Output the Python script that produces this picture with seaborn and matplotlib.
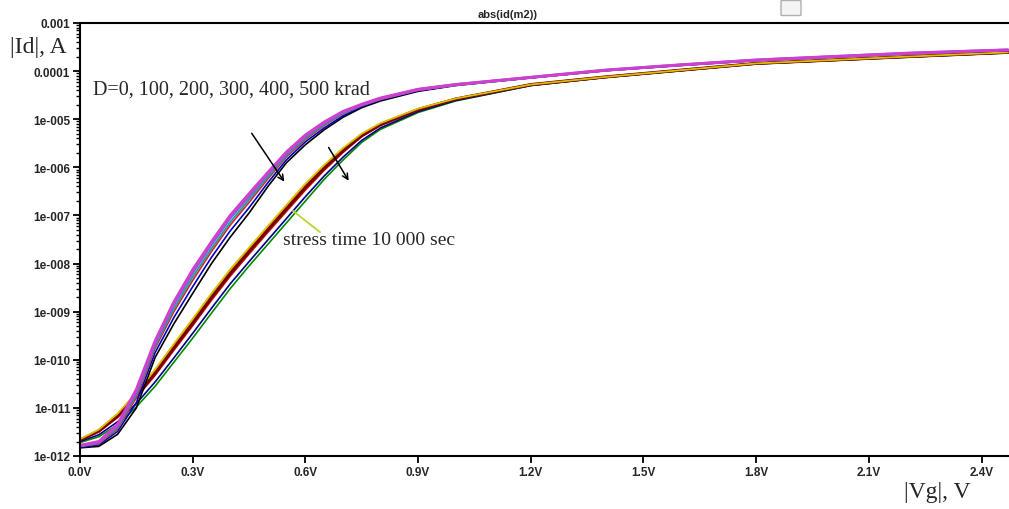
import numpy as np
import pandas as pd
import matplotlib
matplotlib.use("Agg")
import matplotlib.pyplot as plt
import matplotlib.patches as mpatches
import seaborn as sns

# gate voltage grid, V
vg = [0, 0.05, 0.1, 0.15, 0.2, 0.25, 0.3, 0.35, 0.4, 0.45, 0.5, 0.55, 0.6, 0.65,
      0.7, 0.75, 0.8, 0.9, 1.0, 1.2, 1.4, 1.6, 1.8, 2.0, 2.2, 2.47]

# log10(|Id|) - irradiated group (D = 0..500 krad)
rad_magenta = [-11.78, -11.70, -11.35, -10.62, -9.61, -8.80, -8.13, -7.55, -7.00, -6.55, -6.11, -5.68, -5.33,
               -5.06, -4.84, -4.69, -4.56, -4.38, -4.28, -4.13, -3.98, -3.87, -3.77, -3.70, -3.63, -3.56]
rad_violet = [-11.79, -11.71, -11.37, -10.67, -9.65, -8.85, -8.19, -7.60, -7.05, -6.60, -6.14, -5.71, -5.35,
              -5.08, -4.85, -4.70, -4.57, -4.38, -4.28, -4.13, -3.98, -3.87, -3.77, -3.70, -3.63, -3.56]
rad_teal = [-11.80, -11.73, -11.41, -10.73, -9.71, -8.94, -8.28, -7.69, -7.14, -6.67, -6.20, -5.75, -5.39,
            -5.11, -4.88, -4.71, -4.58, -4.39, -4.29, -4.13, -3.98, -3.87, -3.77, -3.70, -3.63, -3.56]
rad_red = [-11.80, -11.75, -11.44, -10.79, -9.76, -9.00, -8.35, -7.75, -7.20, -6.73, -6.24, -5.78, -5.42,
           -5.13, -4.89, -4.72, -4.59, -4.40, -4.29, -4.13, -3.98, -3.87, -3.77, -3.70, -3.63, -3.56]
rad_blue = [-11.82, -11.77, -11.49, -10.89, -9.85, -9.12, -8.48, -7.87, -7.32, -6.84, -6.32, -5.84, -5.47,
            -5.18, -4.93, -4.74, -4.60, -4.41, -4.29, -4.14, -3.99, -3.88, -3.78, -3.71, -3.64, -3.57]
rad_black = [-11.83, -11.80, -11.55, -11.00, -9.95, -9.25, -8.62, -8.00, -7.45, -6.95, -6.40, -5.90, -5.53,
             -5.22, -4.96, -4.76, -4.62, -4.42, -4.30, -4.14, -3.99, -3.88, -3.78, -3.71, -3.64, -3.57]

# stress group (stress time 10 000 sec)
st_yellow = [-11.65, -11.45, -11.12, -10.68, -10.20, -9.67, -9.15, -8.62, -8.12, -7.67, -7.22, -6.78, -6.34,
             -5.95, -5.60, -5.30, -5.08, -4.78, -4.57, -4.28, -4.12, -3.98, -3.84, -3.77, -3.70, -3.61]
st_brown = [-11.66, -11.47, -11.15, -10.72, -10.24, -9.72, -9.20, -8.67, -8.17, -7.72, -7.27, -6.82, -6.38,
            -5.99, -5.63, -5.32, -5.10, -4.79, -4.58, -4.28, -4.12, -3.98, -3.84, -3.77, -3.70, -3.61]
st_maroon = [-11.67, -11.48, -11.17, -10.75, -10.28, -9.75, -9.24, -8.71, -8.21, -7.75, -7.30, -6.86, -6.42,
             -6.02, -5.66, -5.34, -5.11, -4.80, -4.58, -4.28, -4.12, -3.98, -3.84, -3.77, -3.70, -3.61]
st_red = [-11.67, -11.50, -11.20, -10.79, -10.32, -9.80, -9.29, -8.76, -8.26, -7.80, -7.35, -6.91, -6.47,
          -6.06, -5.69, -5.36, -5.13, -4.81, -4.59, -4.29, -4.12, -3.98, -3.84, -3.77, -3.70, -3.61]
st_navy = [-11.70, -11.56, -11.29, -10.91, -10.46, -9.96, -9.45, -8.93, -8.42, -7.96, -7.51, -7.06, -6.61,
           -6.18, -5.79, -5.44, -5.18, -4.84, -4.61, -4.30, -4.13, -3.99, -3.85, -3.78, -3.71, -3.62]
st_green = [-11.72, -11.60, -11.35, -10.98, -10.55, -10.05, -9.55, -9.03, -8.52, -8.05, -7.60, -7.15, -6.70,
            -6.25, -5.85, -5.48, -5.21, -4.86, -4.62, -4.30, -4.13, -3.99, -3.85, -3.78, -3.71, -3.62]

xticks = [0.0, 0.3, 0.6, 0.9, 1.2, 1.5, 1.8, 2.1, 2.4]
xlabels = ["0.0V", "0.3V", "0.6V", "0.9V", "1.2V", "1.5V", "1.8V", "2.1V", "2.4V"]
yticks = [1e-12, 1e-11, 1e-10, 1e-9, 1e-8, 1e-7, 1e-6, 1e-5, 1e-4, 1e-3]
ylabels = ["1e-012", "1e-011", "1e-010", "1e-009", "1e-008", "1e-007", "1e-006", "1e-005", "0.0001", "0.001"]

# (data, colour, width) - drawn bottom to top
curves = [
    (st_green, "#008a00", 1.2), (st_navy, "#00008b", 1.2), (st_red, "#d01010", 1.3),
    (st_brown, "#a05020", 1.6), (st_maroon, "#7a0000", 2.2), (st_yellow, "#d8c000", 1.3),
    (rad_black, "#000000", 1.2), (rad_blue, "#0000c0", 1.2), (rad_red, "#e02020", 1.2),
    (rad_teal, "#20a0a0", 1.4), (rad_violet, "#8060d0", 2.0), (rad_magenta, "#d040d0", 2.2),
]

sns.set_style("white")
fig = plt.figure(figsize=(10.09, 5.10), dpi=100)
ax = fig.add_axes([80 / 1009, 1 - 457 / 510, 929 / 1009, 433 / 510])

for vals, col, lw in curves:
    d = pd.DataFrame({"vg": vg, "id": np.power(10.0, vals)})
    sns.lineplot(data=d, x="vg", y="id", color=col, lw=lw, ax=ax)

ax.set_yscale("log")
ax.set_xlim(0, 2.473)
ax.set_ylim(1e-12, 1e-3)
ax.set_xticks(xticks)
ax.set_xticklabels(xlabels)
ax.set_yticks(yticks)
ax.set_yticklabels(ylabels)
ax.yaxis.set_minor_locator(matplotlib.ticker.LogLocator(base=10, subs=np.arange(2, 10), numticks=20))
ax.yaxis.set_minor_formatter(matplotlib.ticker.NullFormatter())
ax.set_xlabel("")
ax.set_ylabel("")
for lab in ax.get_xticklabels() + ax.get_yticklabels():
    lab.set_fontfamily("Liberation Sans")
    lab.set_fontweight("bold")
    lab.set_fontsize(8.5)
ax.tick_params(axis="both", which="major", direction="out", length=5, width=1.3, color="black", pad=2,
               left=True, bottom=True)
ax.tick_params(axis="y", which="minor", direction="out", length=3, width=1, color="black", left=True)
ax.tick_params(axis="x", which="minor", bottom=False)

for s in ["left", "bottom", "top"]:
    ax.spines[s].set_color("black")
    ax.spines[s].set_linewidth(1.5)
ax.spines["right"].set_visible(False)

# annotations
serif = "Liberation Serif"
ax.text(0.035, 4.3e-5, "D=0, 100, 200, 300, 400, 500 krad", family=serif, fontsize=14.5, va="center", ha="left")
ax.text(0.54, 3.1e-8, "stress time 10 000 sec", family=serif, fontsize=14, va="center", ha="left")
ax.annotate("", xy=(0.548, 4.5e-7), xytext=(0.453, 5.7e-6),
            arrowprops=dict(arrowstyle="->", color="black", lw=1.1))
ax.annotate("", xy=(0.719, 4.7e-7), xytext=(0.658, 2.9e-6),
            arrowprops=dict(arrowstyle="->", color="black", lw=1.1))
ax.plot([0.639, 0.567], [4.5e-8, 1.24e-7], color="#b8d830", lw=1.3)

fig.text(508 / 1009, 1 - 15 / 510, "abs(id(m2))", family="Liberation Sans", fontweight="bold",
         fontsize=8, ha="center", va="center")
fig.text(10 / 1009, 1 - 47 / 510, "|Id|, A", family=serif, fontsize=17, ha="left", va="center")
fig.text(937 / 1009, 1 - 493 / 510, "|Vg|, V", family=serif, fontsize=17, ha="center", va="center")

# little window-control box at the top edge
fig.patches.append(mpatches.FancyBboxPatch((782 / 1009, 1 - 16 / 510), 18 / 1009, 14 / 510,
                                           boxstyle="round,pad=0.001", transform=fig.transFigure,
                                           facecolor="#f4f4f4", edgecolor="#b0b0b0", lw=1))

fig.savefig("out.png", dpi=100)
